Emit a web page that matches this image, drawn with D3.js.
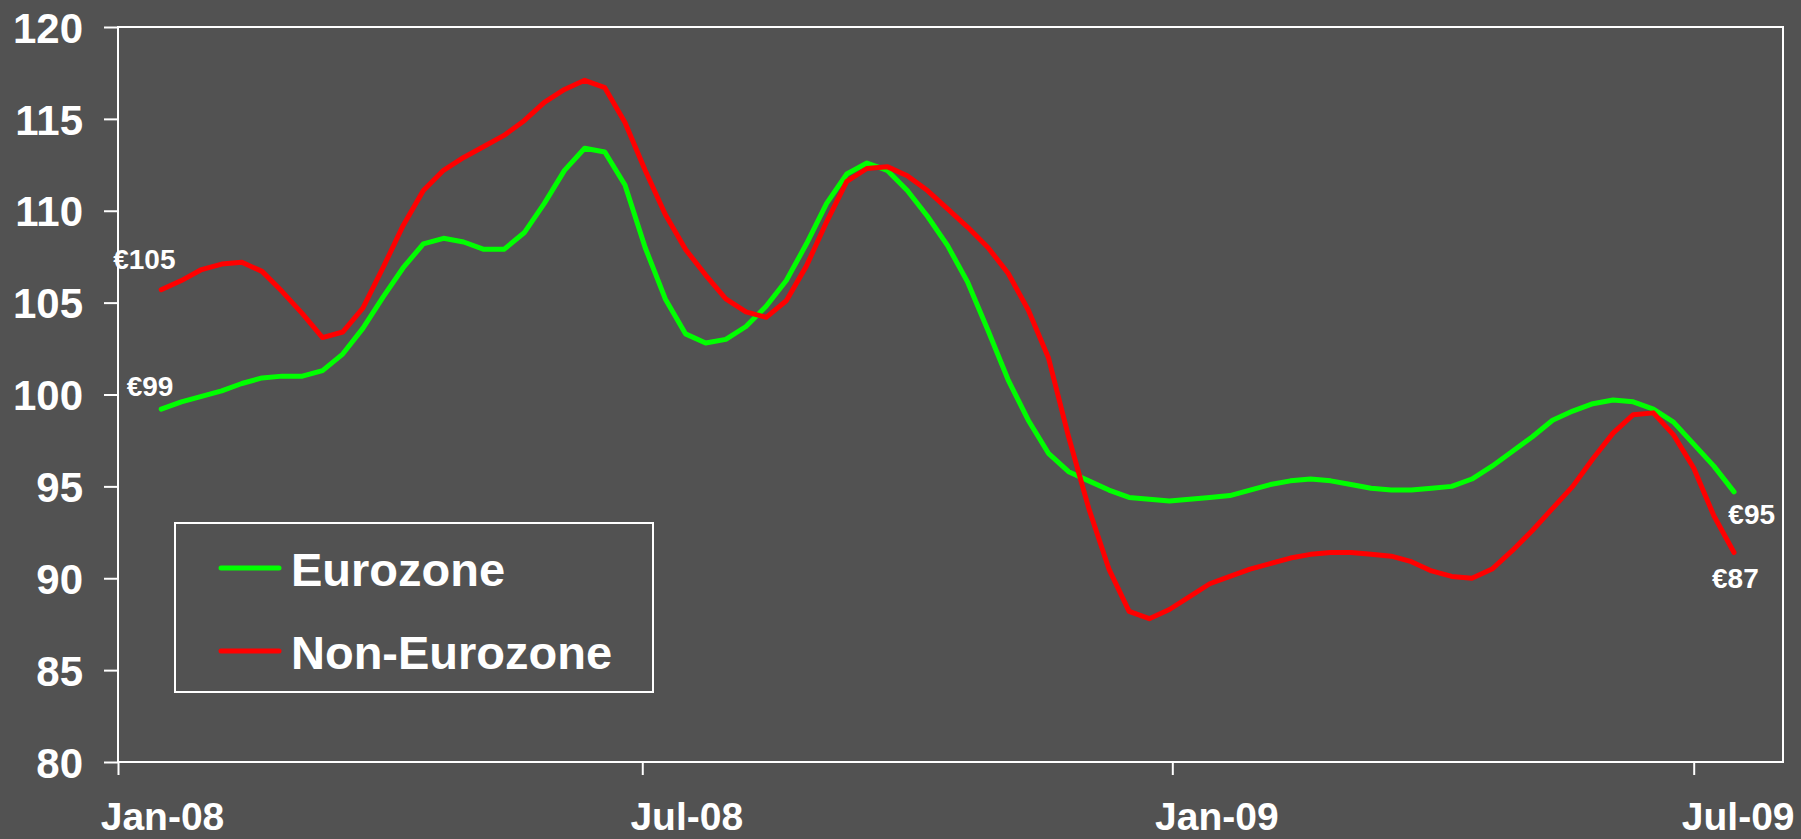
<!DOCTYPE html>
<html>
<head>
<meta charset="utf-8">
<script src="https://cdn.jsdelivr.net/npm/d3@7"></script>
<style>
  html, body { margin: 0; padding: 0; background: #525252; }
  svg { display: block; }
  text { font-family: "Liberation Sans", Arial, sans-serif; fill: #ffffff; }
</style>
</head>
<body>
<svg id="chart" width="1801" height="839"></svg>
<script>
// Weekly index, first observation date
const firstWeek = "2008-01-16";

// Weekly index values, Eurozone
const eurozone = [
  99.2, 99.6, 99.9, 100.2, 100.6, 100.9, 101.0, 101.0, 101.3, 102.2,
  103.6, 105.3, 106.9, 108.2, 108.5, 108.3, 107.9, 107.9, 108.8, 110.4,
  112.2, 113.4, 113.2, 111.4, 108.0, 105.2, 103.3, 102.8, 103.0, 103.7,
  104.8, 106.2, 108.2, 110.4, 112.0, 112.6, 112.2, 111.1, 109.7, 108.1,
  106.1, 103.5, 100.8, 98.6, 96.8, 95.8, 95.3, 94.8, 94.4, 94.3,
  94.2, 94.3, 94.4, 94.5, 94.8, 95.1, 95.3, 95.4, 95.3, 95.1,
  94.9, 94.8, 94.8, 94.9, 95.0, 95.4, 96.1, 96.9, 97.7, 98.6,
  99.1, 99.5, 99.7, 99.6, 99.2, 98.5, 97.3, 96.1, 94.7
];

// Weekly index values, Non-Eurozone
const nonEurozone = [
  105.7, 106.2, 106.8, 107.1, 107.2, 106.7, 105.6, 104.4, 103.1, 103.4,
  104.7, 106.9, 109.2, 111.1, 112.2, 112.9, 113.5, 114.1, 114.9, 115.9,
  116.6, 117.1, 116.7, 114.8, 112.2, 109.8, 107.9, 106.5, 105.2, 104.5,
  104.2, 105.1, 107.0, 109.4, 111.6, 112.3, 112.4, 111.9, 111.1, 110.1,
  109.1, 108.0, 106.6, 104.6, 102.0, 97.7, 93.8, 90.5, 88.2, 87.8,
  88.3, 89.0, 89.7, 90.1, 90.5, 90.8, 91.1, 91.3, 91.4, 91.4,
  91.3, 91.2, 90.9, 90.4, 90.1, 90.0, 90.5, 91.5, 92.6, 93.8,
  95.0, 96.5, 97.9, 98.9, 99.0, 97.8, 96.0, 93.4, 91.4
];

const seriesNames = ["Eurozone", "Non-Eurozone"];
const seriesColors = ["#00ff00", "#ff0000"];
const startLabels = ["€99", "€105"];
const endLabels = ["€95", "€87"];

const yTicks = [80, 85, 90, 95, 100, 105, 110, 115, 120];
const xTickDates = ["2008-01-01", "2008-07-01", "2009-01-01", "2009-07-01"];
const xTickLabels = ["Jan-08", "Jul-08", "Jan-09", "Jul-09"];
const xDomain = ["2008-01-01", "2009-08-01"];

const parse = d3.utcParse("%Y-%m-%d");
const start = parse(firstWeek);
const dates = eurozone.map((_, i) => d3.utcWeek.offset(start, i));

const series = [eurozone, nonEurozone].map((vals, s) => ({
  name: seriesNames[s],
  color: seriesColors[s],
  startLabel: startLabels[s],
  endLabel: endLabels[s],
  points: vals.map((v, i) => ({ date: dates[i], value: v }))
}));

const svg = d3.select("#chart");
const plot = { left: 118, top: 27, right: 1783, bottom: 762 };

svg.append("rect").attr("width", 1801).attr("height", 839).attr("fill", "#525252");

const x = d3.scaleUtc().domain(xDomain.map(parse)).range([plot.left, plot.right]);
const y = d3.scaleLinear().domain([80, 120]).range([plot.bottom, plot.top]);

// Plot frame
svg.append("rect")
  .attr("x", plot.left).attr("y", plot.top)
  .attr("width", plot.right - plot.left).attr("height", plot.bottom - plot.top)
  .attr("fill", "none").attr("stroke", "#ffffff").attr("stroke-width", 2);

// Value axis
const yAxis = svg.append("g")
  .attr("transform", `translate(${plot.left},0)`)
  .call(d3.axisLeft(y).tickValues(yTicks).tickSize(14).tickPadding(21).tickFormat(d3.format("d")));
yAxis.select(".domain").remove();
yAxis.selectAll(".tick line").attr("stroke", "#ffffff").attr("stroke-width", 2);
yAxis.selectAll(".tick text")
  .attr("fill", "#ffffff")
  .style("font-size", "42px").style("font-weight", "bold")
  .attr("dy", "0.36em");

// Date axis
const xAxis = svg.append("g")
  .attr("transform", `translate(0,${plot.bottom})`)
  .call(d3.axisBottom(x).tickValues(xTickDates.map(parse)).tickSize(13)
    .tickFormat((d, i) => xTickLabels[i]));
xAxis.select(".domain").remove();
xAxis.selectAll(".tick line").attr("stroke", "#ffffff").attr("stroke-width", 2);
xAxis.selectAll(".tick text")
  .attr("fill", "#ffffff")
  .style("font-size", "39px").style("font-weight", "bold")
  .attr("x", 44).attr("y", 68).attr("dy", 0);

// Series lines
const line = d3.line()
  .x(d => x(d.date))
  .y(d => y(d.value));

svg.append("g").selectAll("path")
  .data(series)
  .join("path")
  .attr("d", d => line(d.points))
  .attr("fill", "none")
  .attr("stroke", d => d.color)
  .attr("stroke-width", 5)
  .attr("stroke-linejoin", "round")
  .attr("stroke-linecap", "round");

// First and last value labels
const labelStyle = sel => sel.style("font-size", "28px").style("font-weight", "bold").attr("fill", "#ffffff");
const startOffsets = [[-34.5, -13], [-48, -21]];
const endOffsets = [[-5.7, 32], [-22, 35]];
series.forEach((s, i) => {
  const p0 = s.points[0];
  const p1 = s.points[s.points.length - 1];
  svg.append("text")
    .attr("x", x(p0.date) + startOffsets[i][0])
    .attr("y", y(p0.value) + startOffsets[i][1])
    .text(s.startLabel).call(labelStyle);
  svg.append("text")
    .attr("x", x(p1.date) + endOffsets[i][0])
    .attr("y", y(p1.value) + endOffsets[i][1])
    .text(s.endLabel).call(labelStyle);
});

// Legend
const legend = svg.append("g").attr("transform", "translate(175,523)");
legend.append("rect")
  .attr("width", 478).attr("height", 169)
  .attr("fill", "none").attr("stroke", "#ffffff").attr("stroke-width", 2);
const items = legend.selectAll("g.item")
  .data(series)
  .join("g")
  .attr("class", "item")
  .attr("transform", (d, i) => `translate(0,${45 + i * 83})`);
items.append("line")
  .attr("x1", 46).attr("x2", 104)
  .attr("stroke", d => d.color).attr("stroke-width", 5).attr("stroke-linecap", "round");
items.append("text")
  .attr("x", 116).attr("y", 18)
  .style("font-size", "47px").style("font-weight", "bold")
  .attr("fill", "#ffffff")
  .text(d => d.name);
</script>
</body>
</html>
